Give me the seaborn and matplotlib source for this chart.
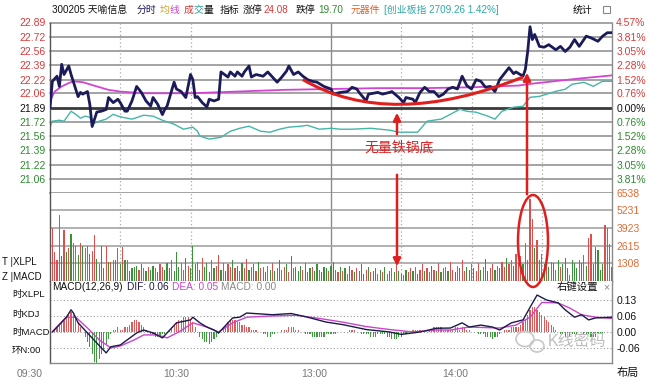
import matplotlib
matplotlib.use("Agg")
import matplotlib.pyplot as plt
from matplotlib.patches import Ellipse, PathPatch, FancyArrowPatch, Rectangle
from matplotlib.path import Path
import seaborn as sns
import pandas as pd

sns.set_style("white")
plt.rcParams["font.family"] = ["Liberation Sans", "Noto Sans CJK SC", "DejaVu Sans"]

PREV_CLOSE = 21.89
RED = "#d83a3a"
GREEN = "#2f8a2f"
ANNOT = "#e01e1e"

# ---- data ----
# price line (minute after 09:30, price)
price_min = [0, 1, 3, 4, 5, 6, 8, 9, 12, 13,
             14, 16, 17, 18, 20, 22, 24, 25, 27, 29,
             30, 32, 33, 35, 37, 39, 41, 43, 44, 46,
             48, 49, 50, 53, 54, 56, 58, 60, 61, 62,
             63, 65, 67, 68, 70, 72, 73, 76, 77, 79,
             80, 82, 83, 85, 86, 88, 91, 93, 95, 97,
             99, 101, 102, 104, 106, 108, 110, 112, 114, 117,
             120, 121, 124, 127, 129, 131, 132, 135, 136, 140,
             142, 145, 146, 149, 151, 152, 155, 156, 158, 160,
             162, 164, 166, 168, 170, 172, 174, 176, 178, 180,
             182, 184, 186, 188, 190, 192, 196, 198, 199, 202,
             203, 204, 205, 206, 207, 209, 211, 213, 216, 218,
             220, 222, 224, 226, 229, 231, 234, 236, 238, 240]
price_val = [21.89, 22.20, 22.26, 22.14, 22.40, 22.28, 22.38, 22.28, 22.02, 22.07,
             22.05, 22.08, 21.93, 21.67, 21.84, 21.85, 21.87, 22.01, 21.95, 21.99,
             21.95, 21.85, 21.85, 21.97, 22.14, 22.07, 21.97, 21.91, 22.01, 21.93,
             21.81, 21.87, 21.91, 22.19, 22.11, 22.08, 22.01, 22.28, 22.22, 22.01,
             22.02, 21.95, 21.90, 21.99, 21.97, 21.99, 22.31, 22.25, 22.31, 22.26,
             22.31, 22.26, 22.31, 22.38, 22.25, 22.28, 22.26, 22.31, 22.25, 22.19,
             22.25, 22.32, 22.38, 22.28, 22.31, 22.26, 22.22, 22.20, 22.19, 22.14,
             22.11, 22.05, 22.07, 22.08, 22.13, 22.11, 22.07, 21.97, 22.05, 22.07,
             22.05, 22.07, 22.08, 22.01, 21.95, 22.01, 21.99, 21.95, 22.07, 22.13,
             22.08, 22.08, 22.02, 22.05, 22.11, 22.13, 22.11, 22.26, 22.15, 22.11,
             22.22, 22.20, 22.13, 22.14, 22.08, 22.22, 22.36, 22.29, 22.31, 22.26,
             22.34, 22.55, 22.84, 22.69, 22.75, 22.61, 22.60, 22.63, 22.57, 22.61,
             22.55, 22.60, 22.69, 22.61, 22.73, 22.71, 22.67, 22.73, 22.77, 22.77]

# average price line
avg_min = [0, 2, 5, 8, 10, 14, 20, 25, 30, 40, 60, 80, 100, 120, 140, 160, 180, 200, 205, 215, 225, 240]
avg_val = [21.97, 22.08, 22.14, 22.18, 22.20, 22.19, 22.14, 22.10, 22.08, 22.06, 22.06,
           22.08, 22.10, 22.11, 22.12, 22.12, 22.13, 22.15, 22.17, 22.20, 22.23, 22.27]

# ChiNext index overlay, % change
index_min = [0, 1, 4, 6, 9, 11, 13, 15, 17, 18,
             21, 24, 27, 29, 31, 35, 40, 44, 48, 53,
             57, 61, 63, 64, 68, 73, 77, 81, 85, 90,
             94, 98, 102, 107, 110, 115, 120, 124, 129, 137,
             145, 149, 157, 161, 167, 171, 175, 178, 182, 187,
             190, 193, 198, 202, 205, 209, 216, 220, 223, 228,
             232, 236, 240]
index_pct = [-1.04, -0.72, -0.67, -0.72, -0.19, -0.35, -0.56, -0.45, -0.51, -0.88,
             -0.72, -0.61, -0.35, -0.45, -0.51, -0.61, -0.40, -0.45, -0.67, -0.88,
             -1.15, -1.04, -1.26, -1.52, -1.68, -1.58, -1.26, -1.10, -0.99, -1.26,
             -1.31, -1.15, -1.04, -0.99, -0.94, -1.15, -1.10, -1.15, -1.15, -1.10,
             -1.20, -1.31, -1.31, -0.72, -0.61, -0.35, -0.08, -0.19, -0.24, -0.45,
             -0.61, -0.19, 0.03, 0.08, 0.56, 0.61, 0.88, 0.99, 1.26, 1.36,
             1.15, 1.42, 1.42]

# per-minute volume (minutes 1..240) and bar side (r = up, g = down)
volume = [3900, 2100, 1500, 4900, 1800, 3750, 2100, 2400, 3500, 2800, 2600, 1900, 2800, 2600, 2400, 2600, 2000, 2200, 3400, 1600,
          1200, 2600, 900, 2600, 1400, 1350, 1500, 1500, 2400, 1200, 2500, 1500, 1500, 700, 900, 1000, 1100, 800, 1200, 900,
          700, 1000, 800, 1100, 900, 600, 1200, 1000, 800, 1300, 900, 1500, 700, 2100, 1000, 1300, 800, 1700, 1100, 900,
          2600, 1200, 1400, 800, 1700, 1000, 1300, 600, 1500, 900, 1100, 1900, 800, 1300, 700, 1200, 1000, 1500, 900, 1100,
          700, 1300, 900, 1600, 800, 1000, 1200, 700, 1400, 900, 1000, 600, 1100, 800, 1300, 700, 900, 1500, 800, 1000,
          1200, 600, 1800, 900, 1000, 700, 1100, 800, 1300, 600, 900, 1000, 700, 1200, 800, 600, 1000, 900, 700, 1100,
          1400, 800, 600, 1000, 700, 900, 500, 1100, 800, 600, 900, 700, 1200, 500, 800, 1000, 600, 700, 900, 500,
          800, 600, 1000, 500, 700, 900, 600, 1300, 700, 500, 400, 800, 600, 900, 700, 1000, 500, 800, 1200, 700,
          900, 600, 1100, 800, 700, 1300, 600, 900, 1000, 700, 1400, 800, 600, 1100, 900, 1500, 700, 1000, 800, 1200,
          900, 700, 1300, 800, 1000, 1600, 700, 900, 1200, 800, 1100, 900, 1400, 1000, 1700, 1200, 1500, 1100, 2000, 1300,
          1800, 1200, 2800, 1500, 6100, 4600, 2400, 3000, 1500, 2000, 1200, 1800, 1000, 1400, 1300, 800, 1500, 1000, 1200, 1650,
          900, 400, 1500, 1300, 900, 1500, 1300, 1900, 1100, 3150, 3500, 1200, 2500, 2300, 800, 1200, 4150, 3900, 2750, 1000]
vol_side = ("rrrrgrgrgrrgrgrrgrrg" "rggrgrrgrgrgrggggrgr" "grggrgrrgggrgggrrgrg"
            "ggrgrgggrgrrgrgrrgrg" "rgrrgrgrgrrgrgrgrgrr" "grgrgggrgrgrggrgggrg"
            "grrgrgrgrgrgggrgrggr" "grgrgrgrggrgrrgrgrrg" "rrgrgrgrrgrrgrgrrggr"
            "grrgrggrrgrgrrgrrgrr" "rgrrrrgrgrgrgrgrgrgg" "grgggrgrgrrgggggrrrg")

# MACD histogram per minute, in hundredths
macd_hist = [0, 1, 2, 3, 4, 5, 6, 7, 8, 7, 6, 4, 2, 0, -2, -4, -6, -9, -12, -13,
             -11, -9, -7, -5, -3, -1, 1, 1, 2, 1, 1, 2, 2, 3, 4, 5, 5, 4, 3, 2,
             1, 0, -1, -1, -2, -2, -2, -1, -1, 0, 1, 2, 3, 4, 5, 5, 6, 6, 6, 5,
             4, 2, 0, -2, -3, -4, -4, -5, -4, -3, -2, -1, 0, 2, 3, 4, 5, 5, 5, 4,
             4, 3, 3, 2, 2, 1, 1, 1, 0, 0, -1, -1, -2, -2, -1, -1, 0, 0, 1, 1,
             1, 2, 2, 2, 1, 1, 0, 0, -1, -1, -1, -2, -2, -2, -2, -2, -2, -1, -1, -1,
             -1, -1, 0, 0, 0, 0, 0, 1, 1, 1, 0, 0, -1, -1, -1, -1, -2, -2, -2, -1,
             -1, -1, -1, -2, -2, -3, -3, -3, -2, -2, -1, -1, 0, 0, 1, 1, 1, 1, 0, 0,
             0, 1, 1, 2, 2, 2, 2, 1, 1, 1, 1, 1, 2, 2, 1, 2, 2, 1, 1, 0,
             0, 0, -1, -1, -1, -2, -2, -2, -3, -2, -2, -1, 0, 1, 1, 1, 2, 2, 2, 2,
             3, 4, 5, 7, 9, 10, 10, 9, 8, 7, 6, 5, 4, 3, 2, 1, 0, -1, -1, -2,
             -2, -2, -1, -1, -1, 0, 0, -1, -1, -1, -2, -2, -2, -1, -1, -1, 0, 0, 0, 0]

dif_min = [1, 7, 9, 10, 12, 16, 20, 24, 26, 30,
           37, 40, 44, 48, 54, 60, 61, 64, 67, 70,
           72, 76, 78, 81, 84, 95, 103, 110, 118, 125,
           135, 145, 150, 158, 165, 171, 176, 179, 184, 189,
           192, 197, 202, 205, 208, 212, 217, 220, 224, 227,
           230, 233, 240]
dif_val = [0.0, 0.06, 0.09, 0.077, 0.037, -0.004, -0.045, -0.085, -0.06, -0.053,
           -0.004, 0.008, -0.004, -0.024, 0.037, 0.049, 0.06, 0.037, 0.02, 0.008,
           -0.004, 0.037, 0.057, 0.06, 0.077, 0.07, 0.075, 0.06, 0.04, 0.03,
           0.01, 0.0, -0.01, 0.0, 0.015, 0.016, 0.037, 0.02, 0.028, 0.02,
           0.008, 0.037, 0.049, 0.10, 0.15, 0.13, 0.118, 0.09, 0.06, 0.07,
           0.049, 0.057, 0.06]
dea_min = [1, 7, 11, 16, 21, 26, 30, 36, 40, 46,
           50, 55, 61, 67, 72, 78, 84, 95, 105, 115,
           125, 135, 145, 155, 165, 171, 179, 192, 199, 205,
           210, 217, 222, 227, 233, 240]
dea_val = [0.0, 0.06, 0.06, 0.016, -0.032, -0.065, -0.057, -0.032, -0.012, -0.012,
           -0.024, 0.0, 0.037, 0.02, 0.0, 0.037, 0.06, 0.065, 0.068, 0.055,
           0.04, 0.022, 0.01, 0.0, 0.008, 0.008, 0.02, 0.016, 0.028, 0.06,
           0.12, 0.118, 0.097, 0.07, 0.06, 0.055]

price_ticks = [22.89, 22.72, 22.56, 22.39, 22.22, 22.06, 21.89, 21.72, 21.56, 21.39, 21.22, 21.06]
pct_labels = ["4.57%", "3.81%", "3.05%", "2.28%", "1.52%", "0.76%", "0.00%",
              "0.76%", "1.52%", "2.28%", "3.05%", "3.81%"]
vol_ticks = [6538, 5231, 3923, 2615, 1308]
macd_ticks = [0.13, 0.065, 0.0, -0.065]
macd_labels = ["0.13", "0.06", "0.00", "-0.06"]
time_labels = ["09:30", "10:30", "13:00", "14:00"]

# ---- layout (pixel boxes) ----
W, H = 667, 378
fig = plt.figure(figsize=(W / 100, H / 100), dpi=100)


def box(x0, y0, x1, y1):
    return [x0 / W, 1 - y1 / H, (x1 - x0) / W, (y1 - y0) / H]


def px(x, y):
    return (x / W, 1 - y / H)


def ftext(x, y, s, **kw):
    kw.setdefault("va", "center")
    kw.setdefault("fontsize", 7.5)
    fig.text(x / W, 1 - y / H, s, **kw)


ax_p = fig.add_axes(box(50, 22.5, 612, 193))
ax_v = fig.add_axes(box(50, 193, 612, 280.5))
ax_m = fig.add_axes(box(50, 281, 612, 363))

def label_color(i, ref):
    return RED if i < ref else ("#111111" if i == ref else GREEN)

# ---- price panel ----
for p in price_ticks + [20.89]:
    if p == PREV_CLOSE:
        ax_p.axhline(p, color="#3a3a3a", lw=2, zorder=1)
    else:
        ax_p.axhline(p, color="#a3a3a3", lw=1.4, zorder=0, clip_on=False)
for ax in (ax_p, ax_v):
    for m in [30, 60, 150, 180, 210]:
        ax.axvline(m, color="#aaaaaa", lw=0.9, ls=(0, (1, 2)), zorder=0)
    ax.axvline(120, color="#8c8c8c", lw=1, zorder=0)

sns.lineplot(x=index_min, y=[PREV_CLOSE * (1 + v / 100) for v in index_pct],
             color="#45b5a8", lw=1, ax=ax_p, zorder=2)
sns.lineplot(x=avg_min, y=avg_val, color="#d444d4", lw=1.3, ax=ax_p, zorder=3)
sns.lineplot(x=price_min, y=price_val, color="#1b1b5a", lw=2, ax=ax_p, zorder=4)

ax_p.set_xlim(0, 240)
ax_p.set_ylim(20.89, 22.89)
ax_p.set_xticks([])
ax_p.set_yticks(price_ticks)
ax_p.set_yticklabels([f"{p:.2f}" for p in price_ticks])
ax_p.tick_params(axis="y", length=0, pad=3, labelsize=7.5)
for i, t in enumerate(ax_p.get_yticklabels()):
    t.set_color(label_color(i, 6))
ax_p.set(xlabel="", ylabel="")

tw = ax_p.twinx()
tw.set_ylim(20.89, 22.89)
tw.set_yticks(price_ticks)
tw.set_yticklabels(pct_labels)
tw.tick_params(axis="y", length=0, pad=3, labelsize=7.5)
for i, t in enumerate(tw.get_yticklabels()):
    t.set_color(label_color(i, 6))
for s in tw.spines.values():
    s.set_visible(False)

# ---- volume panel ----
vol_df = pd.DataFrame({"minute": range(1, 241), "volume": volume, "side": list(vol_side)})
sns.barplot(data=vol_df, x="minute", y="volume", hue="side", palette={"r": "#dd4e4e", "g": "#3a913a"},
            native_scale=True, dodge=False, width=0.5, saturation=1, errorbar=None,
            legend=False, linewidth=0, ax=ax_v)
for v in vol_ticks[1:]:
    ax_v.axhline(v, color="#a3a3a3", lw=1.2, zorder=0)
ax_v.set_xlim(0, 240)
ax_v.set_ylim(0, 6538)
ax_v.set_xticks([])
ax_v.yaxis.tick_right()
ax_v.set_yticks(vol_ticks)
ax_v.set_yticklabels([str(v) for v in vol_ticks])
ax_v.tick_params(axis="y", length=0, pad=3, labelsize=7.5, labelcolor="#e56a32")
ax_v.set(xlabel="", ylabel="")

# ---- MACD panel ----
mdf = pd.DataFrame({"minute": range(1, 241), "macd": [v / 100 for v in macd_hist]})
mdf["sign"] = ["up" if v >= 0 else "down" for v in mdf["macd"]]
for v in macd_ticks:
    ax_m.axhline(v, color="#9a9a9a", lw=0.8, ls=(0, (1, 2)), zorder=0)
sns.barplot(data=mdf, x="minute", y="macd", hue="sign", palette={"up": "#e05a5a", "down": "#3f9a3f"},
            native_scale=True, dodge=False, width=0.5, saturation=1, errorbar=None,
            legend=False, linewidth=0, ax=ax_m)
sns.lineplot(x=dea_min, y=dea_val, color="#cc44cc", lw=1, ax=ax_m, zorder=3)
sns.lineplot(x=dif_min, y=dif_val, color="#1b1b4a", lw=1, ax=ax_m, zorder=4)
ax_m.set_xlim(0, 240)
ax_m.set_ylim(-0.126, 0.207)
ax_m.set_xticks([])
ax_m.yaxis.tick_right()
ax_m.set_yticks(macd_ticks)
ax_m.set_yticklabels(macd_labels)
ax_m.tick_params(axis="y", length=0, pad=3, labelsize=7.5, labelcolor="#111111")
ax_m.set(xlabel="", ylabel="")

for ax in (ax_p, ax_v, ax_m):
    ax.spines["top"].set_visible(False)
    ax.spines["bottom"].set_visible(ax is not ax_p)
    ax.spines["left"].set_color("#555555")
    ax.spines["right"].set_color("#8a8a8a")
    ax.spines["bottom"].set_color("#8a8a8a")
    for s in ax.spines.values():
        s.set_linewidth(1)
    ax.set_facecolor("white")

# ---- header ----
head = [(52, "300205 天喻信息", "#111111"), (137, "分时", "#1a1a60"), (160, "均", "#d4a017"),
        (170, "线", "#cc44cc"), (184, "成", RED), (194, "交", "#2a9a9a"), (204, "量", "#111111"),
        (220, "指标", "#111111"), (243, "涨停", "#111111"), (264, "24.08", RED),
        (296, "跌停", "#111111"), (318, "19.70", GREEN), (351, "元器件", "#e06020"),
        (384, "[创业板指 2709.26 1.42%]", "#30a8a8"), (573, "统计", "#111111")]
for x, s, c in head:
    ftext(x, 10, s, color=c, fontsize=7.1)
fig.add_artist(Rectangle(px(603, 13), 7 / W, 7 / H, transform=fig.transFigure,
                         fill=False, ec="#888888", lw=0.8))

# left side panel labels
ftext(2, 262, "T |XLPL", color="#111111", fontsize=7)
ftext(2, 277, "Z |MACD", color="#111111", fontsize=7)
for y, s in [(295, "时XLPL"), (314, "时KDJ"), (332, "时MACD"), (350, "环N:00")]:
    ftext(12, y, s, color="#111111", fontsize=6.8)

# MACD header
ftext(52, 287, "MACD(12,26,9)", color="#111111", fontsize=7.3)
ftext(127, 287, "DIF: 0.06", color="#1b1b4a", fontsize=7.3)
ftext(172, 287, "DEA: 0.05", color="#cc44cc", fontsize=7.3)
ftext(221, 287, "MACD: 0.00", color="#888888", fontsize=7.3)
ftext(557, 287, "右键设置", color="#111111", fontsize=7.5)
ftext(603, 287, "×", color="#888888", fontsize=7.5)

# time axis
for x, s in zip([30, 176, 314, 455], time_labels):
    ftext(x, 374, s, color="#777777", ha="center")
ftext(617, 373, "布局", color="#111111", fontsize=8)

# watermark
fig.add_artist(Ellipse(px(525, 339), 18 / W, 15 / H, transform=fig.transFigure,
                       fill=False, ec="#c8c8c8", lw=1.2))
fig.add_artist(Ellipse(px(537, 346), 14 / W, 12 / H, transform=fig.transFigure,
                       fill=False, ec="#c8c8c8", lw=1.2))
ftext(548, 341, "K线密码", color="#bdbdbd", fontsize=11.5)

# ---- annotations ----
arc = Path([(108, 22.22), (145, 21.625), (202, 22.25)], [Path.MOVETO, Path.CURVE3, Path.CURVE3])
ax_p.add_patch(PathPatch(arc, fill=False, ec=ANNOT, lw=2.2, zorder=5))
for a, b in [((397, 137), (397, 110)), ((397, 172), (397, 269)), ((527, 197), (527, 70))]:
    fig.add_artist(FancyArrowPatch(px(*a), px(*b), transform=fig.transFigure, arrowstyle="-|>",
                                   mutation_scale=11, color=ANNOT, lw=1.8))
ftext(399, 148, "无量铁锅底", color=ANNOT, fontsize=10, ha="center")
fig.add_artist(Ellipse(px(533, 241), 30 / W, 92 / H, transform=fig.transFigure,
                       fill=False, ec=ANNOT, lw=1.8))

fig.savefig("out.png", dpi=100)
